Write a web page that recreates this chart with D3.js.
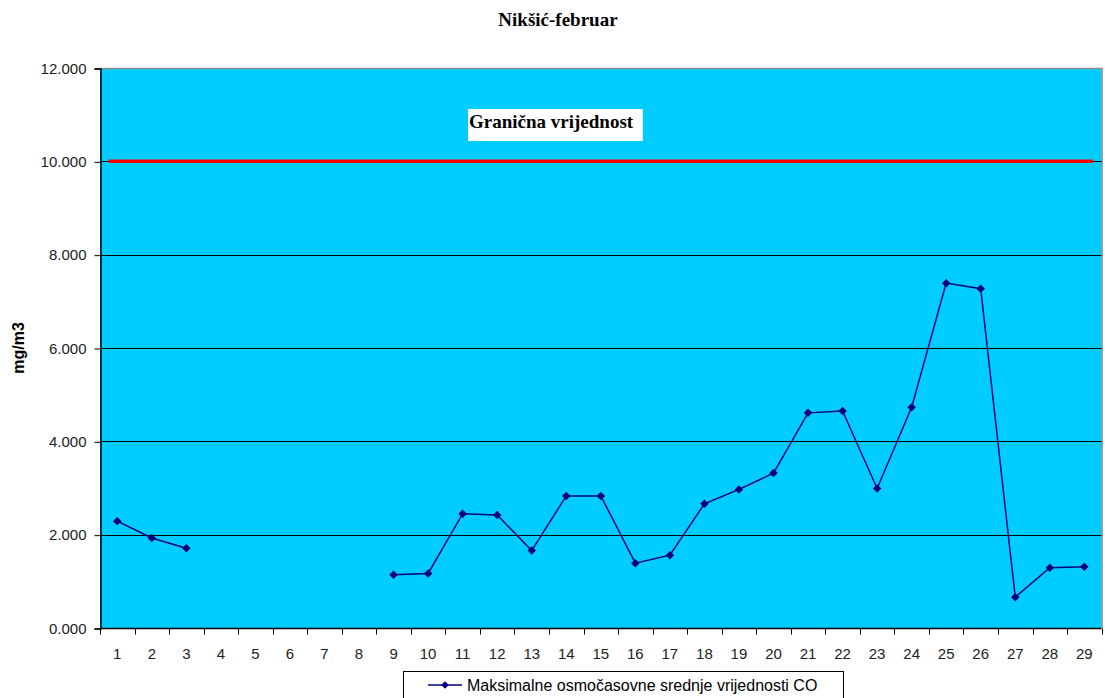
<!DOCTYPE html>
<html>
<head>
<meta charset="utf-8">
<script src="https://cdn.jsdelivr.net/npm/d3@7"></script>
<style>
  html, body { margin: 0; padding: 0; background: #fff; }
  svg { display: block; }
</style>
</head>
<body>
<svg id="chart" width="1105" height="698"></svg>
<script>
// ---- data ----
const days = ["1","2","3","4","5","6","7","8","9","10","11","12","13","14","15","16","17","18","19","20","21","22","23","24","25","26","27","28","29"];
const coValues = [2.29, 1.93, 1.71, null, null, null, null, null, 1.14, 1.17, 2.45, 2.42, 1.66, 2.83, 2.83, 1.39, 1.56, 2.66, 2.97, 3.32, 4.61, 4.65, 2.99, 4.73, 7.39, 7.27, 0.66, 1.29, 1.31];
const limitValue = 10;
const yTicks = [0, 2, 4, 6, 8, 10, 12];
const title = "Nikšić-februar";
const yLabel = "mg/m3";
const limitLabel = "Granična vrijednost";
const seriesName = "Maksimalne osmočasovne srednje vrijednosti CO";

// ---- layout ----
const svg = d3.select("#chart");
const plot = { left: 100, right: 1101.6, top: 68, bottom: 628 };

const x = d3.scaleBand().domain(days).range([plot.left, plot.right]).padding(0);
const y = d3.scaleLinear().domain([0, 12]).range([plot.bottom, plot.top]);
const cx = d => x(d) + x.bandwidth() / 2;

// plot background
svg.append("rect")
  .attr("x", plot.left).attr("y", plot.top)
  .attr("width", plot.right - plot.left).attr("height", plot.bottom - plot.top)
  .attr("fill", "#00CCFF");

// plot border (top/right grey)
svg.append("path")
  .attr("d", `M${plot.left},${plot.top + 0.5}H${plot.right + 0.5}V${plot.bottom}`)
  .attr("fill", "none").attr("stroke", "#8c8c8c").attr("stroke-width", 1.5);

// gridlines
svg.append("g").selectAll("line")
  .data(yTicks.filter(t => t > 0 && t < 12))
  .join("line")
  .attr("x1", plot.left).attr("x2", plot.right)
  .attr("y1", d => Math.round(y(d)) + 0.5).attr("y2", d => Math.round(y(d)) + 0.5)
  .attr("stroke", "#000").attr("stroke-width", 1);

// y axis
const yAxis = d3.axisLeft(y).tickValues(yTicks).tickSize(6).tickPadding(8)
  .tickFormat(d => d3.format(".3f")(d));
const gy = svg.append("g").attr("transform", `translate(${plot.left + 0.5},0.5)`).call(yAxis);
gy.select(".domain").attr("stroke", "#000").attr("stroke-width", 1.5);
gy.selectAll(".tick line").attr("stroke", "#000");
gy.selectAll(".tick text").attr("font-family", "Liberation Sans, Arial, sans-serif")
  .attr("font-size", 15).attr("fill", "#222");

// x axis (ticks at category boundaries)
const gx = svg.append("g").attr("transform", `translate(0,${plot.bottom + 0.5})`);
gx.append("line").attr("x1", plot.left).attr("x2", plot.right)
  .attr("stroke", "#000").attr("stroke-width", 1.5);
const boundaries = days.map(d => x(d)).concat([plot.right]);
gx.selectAll("line.tk").data(boundaries).join("line").attr("class", "tk")
  .attr("x1", d => Math.round(d) + 0.5).attr("x2", d => Math.round(d) + 0.5)
  .attr("y1", 0).attr("y2", 6).attr("stroke", "#000");
gx.selectAll("text").data(days).join("text")
  .attr("x", d => cx(d)).attr("y", 30)
  .attr("text-anchor", "middle")
  .attr("font-family", "Liberation Sans, Arial, sans-serif")
  .attr("font-size", 15).attr("fill", "#222")
  .text(d => d);

// limit line
const ext = x.bandwidth() * 0.25;
svg.append("line")
  .attr("x1", cx(days[0]) - ext).attr("x2", cx(days[days.length - 1]) + ext)
  .attr("y1", y(limitValue)).attr("y2", y(limitValue))
  .attr("stroke", "#FF0000").attr("stroke-width", 3.5);

// limit label
const lbl = svg.append("g");
const lblText = lbl.append("text")
  .attr("x", 469).attr("y", 128)
  .attr("font-family", "Liberation Serif, Times New Roman, serif")
  .attr("font-weight", "bold").attr("font-size", 19).attr("fill", "#000")
  .text(limitLabel);
const bb = lblText.node().getBBox();
lbl.insert("rect", "text")
  .attr("x", 468).attr("y", 109)
  .attr("width", bb.width + 10).attr("height", 32)
  .attr("fill", "#fff");

// data series
const pts = days.map((d, i) => ({ d, v: coValues[i] }));
const line = d3.line().defined(p => p.v != null).x(p => cx(p.d)).y(p => y(p.v));
svg.append("path").datum(pts)
  .attr("d", line)
  .attr("fill", "none").attr("stroke", "#000080").attr("stroke-width", 1.5);

const diamond = d3.symbol().type(d3.symbolDiamond2 || d3.symbolDiamond).size(40);
svg.append("g").selectAll("path")
  .data(pts.filter(p => p.v != null))
  .join("path")
  .attr("transform", p => `translate(${cx(p.d)},${y(p.v)}) rotate(0)`)
  .attr("d", d3.symbol().type(d3.symbolSquare).size(36))
  .attr("transform", p => `translate(${cx(p.d)},${y(p.v)}) rotate(45)`)
  .attr("fill", "#000080");

// title
svg.append("text")
  .attr("x", 558).attr("y", 26)
  .attr("text-anchor", "middle")
  .attr("font-family", "Liberation Serif, Times New Roman, serif")
  .attr("font-weight", "bold").attr("font-size", 19)
  .text(title);

// y label
svg.append("text")
  .attr("transform", `translate(24,348) rotate(-90)`)
  .attr("text-anchor", "middle")
  .attr("font-family", "Liberation Sans, Arial, sans-serif")
  .attr("font-weight", "bold").attr("font-size", 16)
  .text(yLabel);

// legend
const lg = svg.append("g");
lg.append("rect")
  .attr("x", 403.5).attr("y", 671.5).attr("width", 440).attr("height", 40)
  .attr("fill", "#fff").attr("stroke", "#000").attr("stroke-width", 1);
lg.append("line").attr("x1", 428).attr("x2", 462).attr("y1", 685).attr("y2", 685)
  .attr("stroke", "#000080").attr("stroke-width", 1.5);
lg.append("path").attr("d", d3.symbol().type(d3.symbolSquare).size(30))
  .attr("transform", "translate(445,685) rotate(45)").attr("fill", "#000080");
lg.append("text").attr("x", 467).attr("y", 691)
  .attr("font-family", "Liberation Sans, Arial, sans-serif")
  .attr("font-size", 16).attr("fill", "#000")
  .text(seriesName);
</script>
</body>
</html>
